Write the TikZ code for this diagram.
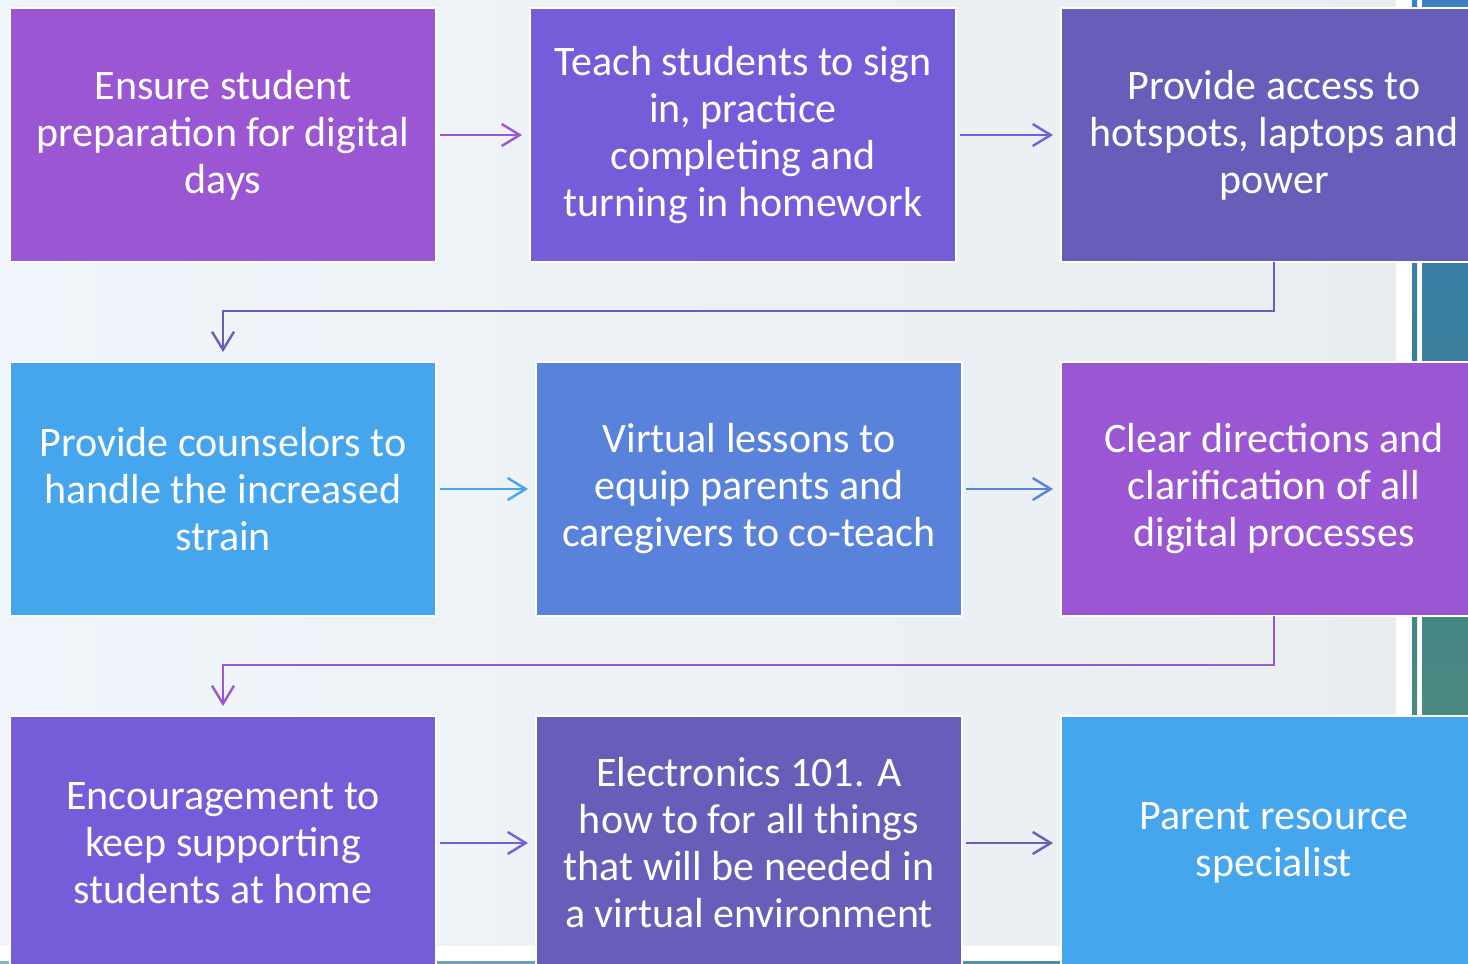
\documentclass[tikz,border=0pt]{standalone}
\usepackage{fontspec}
\setmainfont{Carlito}
\usetikzlibrary{positioning,arrows.meta}
\definecolor{vioplum}{HTML}{9B57D3}
\definecolor{violilac}{HTML}{755DD9}
\definecolor{vioindigo}{HTML}{665EB8}
\definecolor{vioazure}{HTML}{45A5ED}
\definecolor{viocobalt}{HTML}{5982DB}
\definecolor{panelleft}{HTML}{F0F5FB}
\definecolor{panelright}{HTML}{E8EEF0}
\definecolor{stripblue}{HTML}{3C80C4}
\definecolor{stripteal}{HTML}{3A7E8E}
\definecolor{stripgreen}{HTML}{5E9670}
\tikzset{
  box/.style={fill=#1, draw=white, line width=0.8pt, minimum width=213pt,
    minimum height=127pt, inner sep=0pt, outer sep=0pt, align=center, text=white,
    font=\fontsize{21}{23.5}\selectfont},
  link/.style={draw=#1, line width=1.2pt, -{Straight Barb[length=9pt,width=11pt]},
    shorten <=2pt, shorten >=4pt},
}

\begin{document}
\begin{tikzpicture}
  \clip (0,0) rectangle (734pt,-482pt);
  % backdrop
  \fill [white] (0,0) rectangle (734pt,-482pt);
  \fill [left color=panelleft, right color=panelright] (0,0) rectangle (698pt,-472.5pt);
  \fill [top color=stripblue, bottom color=stripgreen, middle color=stripteal] (706pt,0) rectangle (708.5pt,-482pt);
  \fill [top color=stripblue, bottom color=stripgreen, middle color=stripteal] (711pt,0) rectangle (734pt,-482pt);
  \fill [left color=stripteal!60, right color=stripteal] (0,-480.5pt) rectangle (734pt,-482pt);

  \node [box=vioplum, anchor=north west] (r1a) at (5pt,-4pt)
    {Ensure student\\preparation for digital\\days};
  \node [box=violilac, right=47pt of r1a] (r1b)
    {Teach students to sign\\in, practice\\completing and\\turning in homework};
  \node [box=vioindigo, right=52.5pt of r1b] (r1c)
    {Provide access to\\hotspots, laptops and\\power};

  \node [box=vioazure, below=50pt of r1a] (r2a)
    {Provide counselors to\\handle the increased\\strain};
  \node [box=viocobalt, right=50pt of r2a] (r2b)
    {Virtual lessons to\\equip parents and\\caregivers to co-teach};
  \node [box=vioplum, right=49.5pt of r2b] (r2c)
    {Clear directions and\\clarification of all\\digital processes};

  \node [box=violilac, below=50pt of r2a] (r3a)
    {Encouragement to\\keep supporting\\students at home};
  \node [box=vioindigo, right=50pt of r3a] (r3b)
    {Electronics 101. A\\how to for all things\\that will be needed in\\a virtual environment};
  \node [box=vioazure, right=49.5pt of r3b] (r3c)
    {Parent resource\\specialist};

  \draw [link=vioplum] (r1a) to (r1b);
  \draw [link=violilac] (r1b) to (r1c);
  \draw [link=vioindigo, shorten <=0pt, shorten >=5pt] (r1c.south) -- ++(0,-24.5pt) -| (r2a.north);

  \draw [link=vioazure] (r2a) to (r2b);
  \draw [link=viocobalt] (r2b) to (r2c);
  \draw [link=vioplum, shorten <=0pt, shorten >=5pt] (r2c.south) -- ++(0,-24.5pt) -| (r3a.north);

  \draw [link=violilac] (r3a) to (r3b);
  \draw [link=vioindigo] (r3b) to (r3c);
\end{tikzpicture}
\end{document}
